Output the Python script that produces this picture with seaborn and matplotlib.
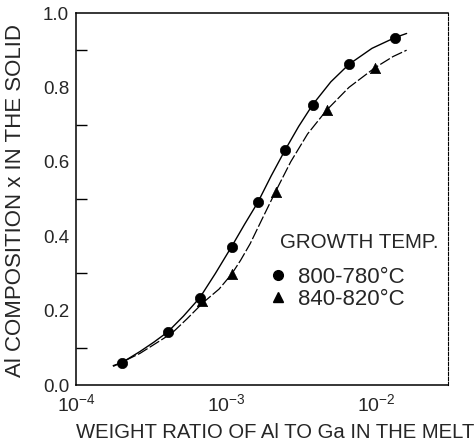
import numpy as np
import pandas as pd
import matplotlib
matplotlib.use("Agg")
import matplotlib.pyplot as plt
from matplotlib.lines import Line2D
import seaborn as sns

# ---- data ----
circ_x = [2.02e-4, 4.1e-4, 6.7e-4, 1.09e-3, 1.63e-3, 2.48e-3, 3.79e-3, 6.6e-3, 1.34e-2]
circ_y = [0.060, 0.143, 0.235, 0.372, 0.491, 0.632, 0.754, 0.862, 0.934]
tri_x = [6.9e-4, 1.09e-3, 2.14e-3, 4.69e-3, 9.85e-3]
tri_y = [0.225, 0.298, 0.520, 0.739, 0.853]

curve1_x = [1.77e-4, 2.02e-4, 2.67e-4, 3.3e-4, 4.1e-4, 5.2e-4, 6.7e-4, 8.5e-4, 1.09e-3,
            1.33e-3, 1.63e-3, 2.0e-3, 2.48e-3, 3.05e-3, 3.79e-3, 5.0e-3, 6.6e-3,
            9.4e-3, 1.34e-2, 1.6e-2]
curve1_y = [0.052, 0.060, 0.090, 0.115, 0.143, 0.185, 0.235, 0.300, 0.372,
            0.432, 0.491, 0.562, 0.632, 0.695, 0.754, 0.815, 0.862,
            0.905, 0.934, 0.945]
curve2_x = [1.77e-4, 2.67e-4, 4.35e-4, 5.5e-4, 7.06e-4, 9.0e-4, 1.09e-3, 1.25e-3, 1.45e-3,
            1.75e-3, 2.14e-3, 2.7e-3, 3.5e-3, 4.69e-3, 6.6e-3, 9.85e-3, 1.3e-2, 1.6e-2]
curve2_y = [0.050, 0.085, 0.139, 0.178, 0.222, 0.258, 0.298, 0.335, 0.380,
            0.448, 0.520, 0.600, 0.675, 0.739, 0.800, 0.853, 0.883, 0.900]

series_labels = ["800-780°C", "840-820°C"]
legend_title = "GROWTH TEMP."
x_ticks = [1e-4, 1e-3, 1e-2]
x_tick_labels = [r"$10^{-4}$", r"$10^{-3}$", r"$10^{-2}$"]
y_ticks = [0.0, 0.2, 0.4, 0.6, 0.8, 1.0]
y_tick_labels = ["0.0", "0.2", "0.4", "0.6", "0.8", "1.0"]
y_minor = [0.1, 0.3, 0.5, 0.7, 0.9]
x_label = "WEIGHT RATIO OF Al TO Ga IN THE MELT"
y_label = "Al COMPOSITION x IN THE SOLID"

sns.set_theme(style="white")
plt.rcParams['font.family'] = ['Liberation Sans', 'DejaVu Sans']
plt.rcParams['mathtext.fontset'] = 'custom'
plt.rcParams['mathtext.rm'] = 'Liberation Sans'
plt.rcParams['mathtext.it'] = 'Liberation Sans'

fig = plt.figure(figsize=(4.77, 4.46), dpi=100)
ax = fig.add_axes([76/477, 61/446, (448-76)/477, (385-13)/446])

c1 = pd.DataFrame({"x": curve1_x, "y": curve1_y})
c2 = pd.DataFrame({"x": curve2_x, "y": curve2_y})
p1 = pd.DataFrame({"x": circ_x, "y": circ_y})
p2 = pd.DataFrame({"x": tri_x, "y": tri_y})

sns.lineplot(data=c1, x="x", y="y", ax=ax, color="black", lw=1.0, sort=True)
sns.lineplot(data=c2, x="x", y="y", ax=ax, color="black", lw=0.9, sort=True,
             linestyle=(0, (9, 2)))
sns.scatterplot(data=p1, x="x", y="y", ax=ax, color="black", marker="o", s=55,
                edgecolor="black", linewidth=0.5, zorder=5)
sns.scatterplot(data=p2, x="x", y="y", ax=ax, color="black", marker="^", s=55,
                edgecolor="black", linewidth=0.5, zorder=5)

ax.set_xscale("log")
ax.set_xlim(1e-4, 10**-1.52)
ax.set_ylim(0, 1.0)

ax.set_xticks(x_ticks)
ax.set_xticklabels(x_tick_labels, fontsize=14)
ax.xaxis.set_minor_locator(matplotlib.ticker.NullLocator())
ax.set_yticks(y_ticks)
ax.set_yticklabels(y_tick_labels, fontsize=13.5)
ax.set_yticks(y_minor, minor=True)

ax.tick_params(axis="y", which="major", direction="in", length=14, width=1, color="black", pad=5)
ax.tick_params(axis="y", which="minor", direction="in", length=8, width=1, color="black", left=True)
ax.tick_params(axis="x", which="major", direction="in", length=12, width=1, color="black", pad=6)

for s in ax.spines.values():
    s.set_color("black")
    s.set_linewidth(1.1)
ax.spines["right"].set_linewidth(0.8)
ax.spines["right"].set_linestyle((0, (3, 1.5)))

ax.set_xlabel(x_label, fontsize=14.6)
ax.xaxis.set_label_coords(0.535, -0.127)
ax.xaxis.label.set_va("center")
ax.set_ylabel(y_label, fontsize=16)
ax.yaxis.set_label_coords(-0.135, 0.495)

handles = [Line2D([], [], marker="o", color="black", ls="none", markersize=7),
           Line2D([], [], marker="^", color="black", ls="none", markersize=7)]
leg = ax.legend(handles, series_labels, frameon=False,
                fontsize=16, loc="upper left",
                bbox_to_anchor=(0.519, 0.317), handlelength=0.8, handletextpad=0.5,
                labelspacing=0.05, borderpad=0.0, borderaxespad=0.0)
ax.text(0.548, 0.382, legend_title, transform=ax.transAxes, fontsize=14.8,
        ha="left", va="center")

fig.savefig("out.png", dpi=100, facecolor="white")
